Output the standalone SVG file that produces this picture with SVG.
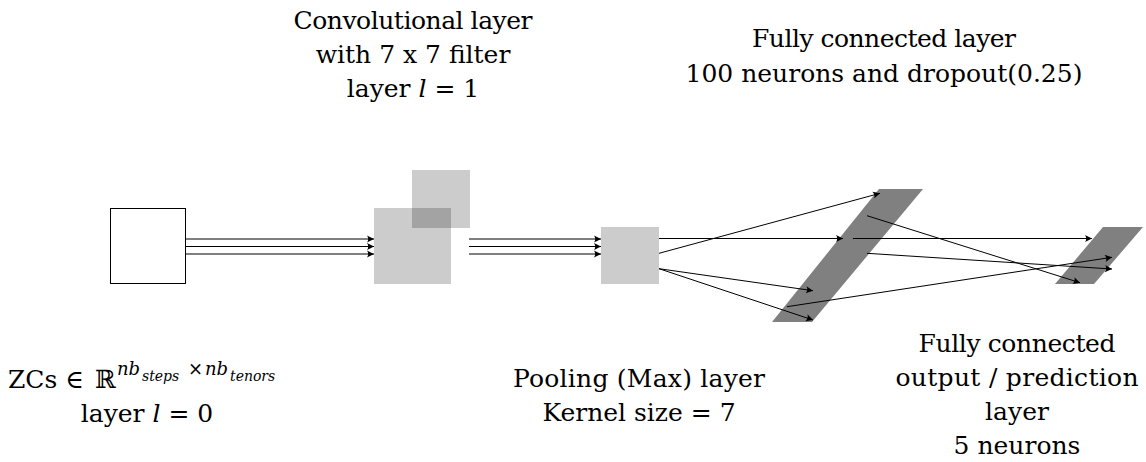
<svg xmlns="http://www.w3.org/2000/svg" width="1146" height="462" viewBox="0 0 1146 462">
<style>
text{font-family:'DejaVu Serif',serif;font-size:25px;fill:#000}
.lbl{text-anchor:middle}
.it{font-style:italic}
.lite{fill:#000;fill-opacity:0.2}
.dark{fill:#808080}
.box{fill:#fff;stroke:#000;stroke-width:1}
.con line{stroke:#000;stroke-width:1;marker-end:url(#ah)}
</style>
<defs>
<marker id="ah" viewBox="-8 -5 9 10" refX="0" refY="0" markerWidth="9" markerHeight="10" markerUnits="userSpaceOnUse" orient="auto">
<path d="M0 0 L-7 -3.6 Q-4.6 0 -7 3.6 Z" fill="#000"/>
</marker>
</defs>
<g id="input"><rect class="box" x="110.5" y="208.5" width="75" height="75"/></g>
<g id="conv"><rect class="lite" x="374" y="208" width="77" height="76"/><rect class="lite" x="412" y="170" width="58" height="58"/></g>
<g id="pool"><rect class="lite" x="601" y="227" width="58" height="57"/></g>
<g id="fc"><polygon class="dark" points="879,189 923,189 812,322 772,322"/></g>
<g id="out"><polygon class="dark" points="1103,227 1143,227 1094,284 1055,284"/></g>
<g id="connectors" class="con">
<line x1="186" y1="239" x2="374" y2="239"/>
<line x1="186" y1="246.5" x2="374" y2="246.5"/>
<line x1="186" y1="254" x2="374" y2="254"/>
<line x1="469" y1="239" x2="601" y2="239"/>
<line x1="469" y1="246.5" x2="601" y2="246.5"/>
<line x1="469" y1="254" x2="601" y2="254"/>
<line x1="659" y1="238.5" x2="843" y2="238.5"/>
<line x1="853" y1="238.5" x2="1092" y2="238.5"/>
<line x1="659" y1="253.3" x2="880" y2="193.3"/>
<line x1="659" y1="268.7" x2="813" y2="290.7"/>
<line x1="659" y1="268.7" x2="813" y2="320"/>
<line x1="867" y1="215.7" x2="1080" y2="282.7"/>
<line x1="867" y1="253.3" x2="1112" y2="269"/>
<line x1="787" y1="306.7" x2="1112" y2="257.3"/>
</g>
<g id="label-input">
<text x="8" y="388">ZCs ∈ <tspan x="95">ℝ</tspan><tspan class="it" x="117" y="375" font-size="18">nb</tspan><tspan class="it" x="142" y="381" font-size="14">steps</tspan><tspan x="188" y="375" font-size="18">×</tspan><tspan class="it" x="205" y="375" font-size="18">nb</tspan><tspan class="it" x="230" y="381" font-size="14">tenors</tspan></text>
<text class="lbl" x="147" y="422">layer <tspan class="it">l</tspan> = 0</text>
</g>
<g id="label-conv">
<text class="lbl" x="413" y="29" textLength="239">Convolutional layer</text>
<text class="lbl" x="413" y="63">with 7 x 7 filter</text>
<text class="lbl" x="413" y="97">layer <tspan class="it">l</tspan> = 1</text>
</g>
<g id="label-fc">
<text class="lbl" x="884" y="47" textLength="264">Fully connected layer</text>
<text class="lbl" x="884" y="82">100 neurons and dropout(0.25)</text>
</g>
<g id="label-pool">
<text class="lbl" x="639" y="387" textLength="252">Pooling (Max) layer</text>
<text class="lbl" x="639" y="421">Kernel size = 7</text>
</g>
<g id="label-out">
<text class="lbl" x="1017" y="352" textLength="197">Fully connected</text>
<text class="lbl" x="1017" y="386" textLength="243">output / prediction</text>
<text class="lbl" x="1017" y="420">layer</text>
<text class="lbl" x="1017" y="454">5 neurons</text>
</g>
</svg>
